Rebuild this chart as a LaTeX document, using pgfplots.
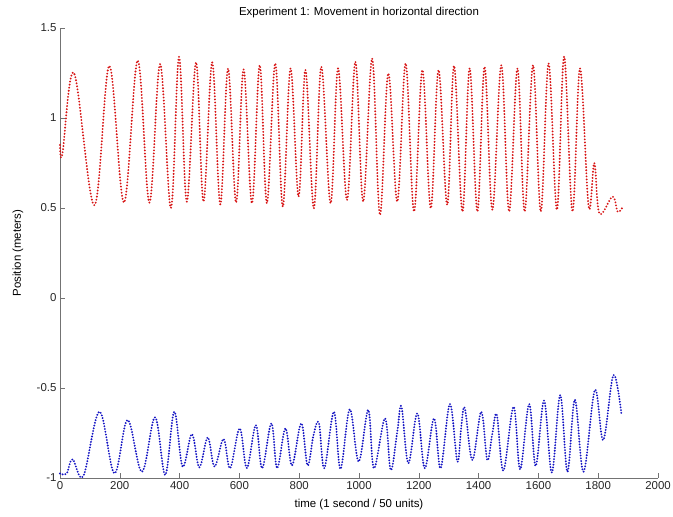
\documentclass[border=0pt]{standalone}
\usepackage{pgfplots}
\pgfplotsset{compat=1.18}
\usepackage{fontspec}
\setmainfont{Liberation Sans}

\definecolor{trackred}{RGB}{215,20,20}
\definecolor{trackblue}{RGB}{20,20,195}

% sampled positions of the two tracked markers (turning points of each swing)
\pgfplotstableread{
t    pos
0    0.85
8    0.80
47   1.25
115  0.515
165  1.29
214  0.53
260  1.32
299  0.53
335  1.30
371  0.50
398  1.34
424  0.535
455  1.31
480  0.535
509  1.31
536  0.52
562  1.275
589  0.53
614  1.27
642  0.526
668  1.294
692  0.526
720  1.304
745  0.507
771  1.276
798  0.563
821  1.267
849  0.498
874  1.285
905  0.526
930  1.276
960  0.544
988  1.313
1014 0.535
1044 1.331
1070 0.461
1098 1.248
1128 0.535
1156 1.304
1184 0.48
1212 1.267
1240 0.498
1266 1.267
1295 0.517
1318 1.29
1346 0.48
1370 1.276
1396 0.48
1420 1.285
1446 0.49
1476 1.294
1502 0.48
1530 1.276
1554 0.48
1582 1.294
1608 0.48
1634 1.304
1662 0.49
1686 1.341
1714 0.48
1739 1.276
1768 0.507
1787 0.75
1804 0.47
1848 0.563
1865 0.48
1880 0.50
}\redtrack

\pgfplotstableread{
t    pos
0    -0.975
22   -0.975
42   -0.896
78   -0.989
132  -0.632
182  -0.974
226  -0.678
274  -0.965
318  -0.663
352  -0.983
382  -0.632
410  -0.937
441  -0.756
466  -0.941
494  -0.774
517  -0.937
547  -0.783
569  -0.946
601  -0.724
625  -0.945
655  -0.706
676  -0.946
707  -0.696
726  -0.946
754  -0.724
776  -0.93
807  -0.696
828  -0.93
848  -0.76
866  -0.696
884  -0.946
916  -0.632
938  -0.95
969  -0.619
999  -0.909
1031 -0.622
1050 -0.946
1087 -0.669
1106 -0.956
1128 -0.743
1142 -0.604
1165 -0.918
1195 -0.641
1220 -0.946
1251 -0.669
1273 -0.946
1304 -0.589
1329 -0.909
1342 -0.715
1354 -0.613
1379 -0.90
1409 -0.632
1429 -0.90
1446 -0.752
1461 -0.65
1483 -0.959
1517 -0.604
1539 -0.952
1569 -0.589
1591 -0.933
1619 -0.57
1645 -0.97
1673 -0.539
1697 -0.965
1722 -0.565
1751 -0.965
1789 -0.511
1817 -0.789
1851 -0.428
1878 -0.65
}\bluetrack

\begin{document}
\begin{tikzpicture}
\path[use as bounding box] (-60bp,-39bp) rectangle (613bp,478bp);
\begin{axis}[
  at={(0,0)}, anchor=south west,
  scale only axis, width=598bp, height=450bp,
  xmin=0, xmax=2000, ymin=-1, ymax=1.5,
  xtick={0,200,...,2000},
  ytick={-1,-0.5,0,0.5,1,1.5},
  yticklabels={-1,-0.5,0,0.5,1,1.5},
  axis x line*=bottom, axis y line*=left,
  axis line style={black!55, line width=0.6pt},
  tick style={black!55, line width=0.6pt},
  tick align=inside, major tick length=5bp,
  /pgf/number format/assume math mode=true,
  /pgf/number format/1000 sep={},
  tick label style={font=\fontsize{11.5}{13}\selectfont, text=black!85},
  every axis title/.style={at={(axis description cs:0.5,1)}, anchor=center, yshift=15bp, font=\fontsize{11.5}{13}\selectfont},
  every axis x label/.style={at={(axis description cs:0.5,0)}, anchor=center, yshift=-27bp, font=\fontsize{11.5}{13}\selectfont},
  every axis y label/.style={at={(axis description cs:0,0.5)}, rotate=90, anchor=center, yshift=42bp, font=\fontsize{11.5}{13}\selectfont},
  title={Experiment 1: Movement in horizontal direction},
  xlabel={time (1 second / 50 units)},
  ylabel={Position (meters)},
  clip=false,
]
\addplot[trackred, smooth, tension=0.6, line width=2.1pt, line cap=round, dash pattern=on 0pt off 3.1pt] table[x=t, y=pos] {\redtrack};
\addplot[trackblue, smooth, tension=0.6, line width=2.1pt, line cap=round, dash pattern=on 0pt off 2.8pt] table[x=t, y=pos] {\bluetrack};
\end{axis}
\end{tikzpicture}
\end{document}
